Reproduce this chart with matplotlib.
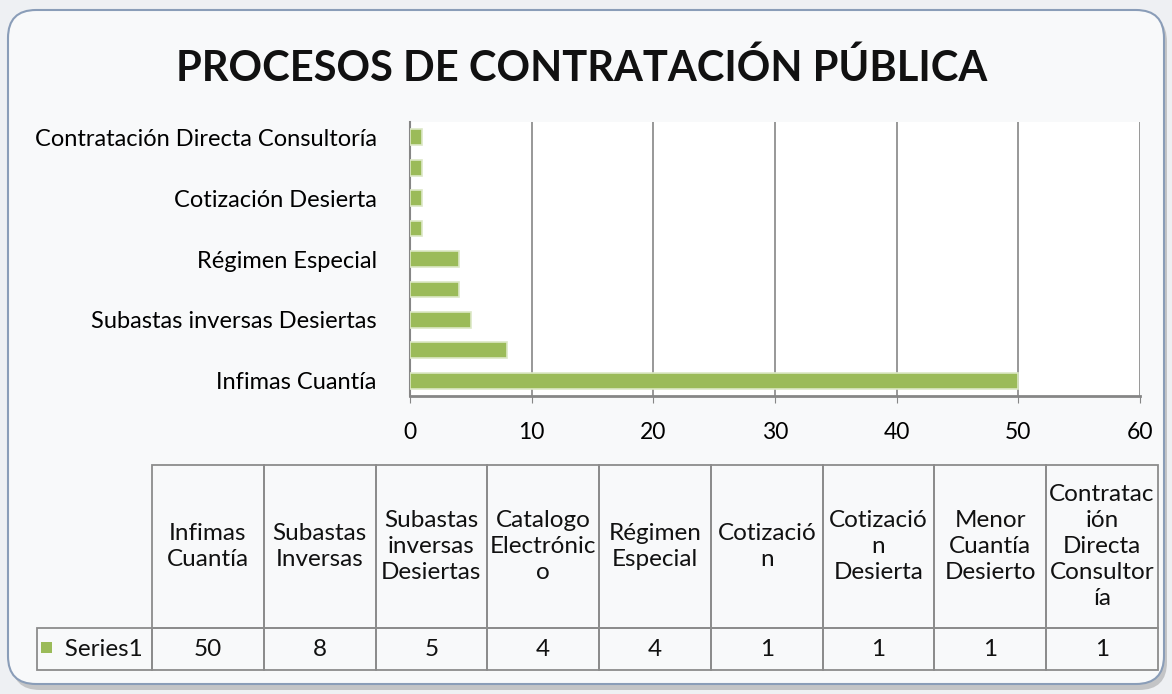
import matplotlib.pyplot as plt
from matplotlib.patches import FancyBboxPatch, Rectangle

# data
categories = ['Infimas Cuantía', 'Subastas Inversas', 'Subastas inversas Desiertas',
              'Catalogo Electrónico', 'Régimen Especial', 'Cotización',
              'Cotización Desierta', 'Menor Cuantía Desierto',
              'Contratación Directa Consultoría']
table_headers = ['Infimas\nCuantía', 'Subastas\nInversas', 'Subastas\ninversas\nDesiertas',
                 'Catalogo\nElectrónic\no', 'Régimen\nEspecial', 'Cotizació\nn',
                 'Cotizació\nn\nDesierta', 'Menor\nCuantía\nDesierto',
                 'Contratac\nión\nDirecta\nConsultor\nía']
values = [50, 8, 5, 4, 4, 1, 1, 1, 1]
series_name = 'Series1'
x_ticks = [0, 10, 20, 30, 40, 50, 60]

plt.rcParams['font.family'] = ['Lato', 'DejaVu Sans']

W, H = 1172, 694
fig = plt.figure(figsize=(W / 100, H / 100), dpi=100)
fig.patch.set_facecolor('#EEF0F3')

# background / frame in pixel coords
bg = fig.add_axes([0, 0, 1, 1], zorder=-1)
bg.set_xlim(0, W)
bg.set_ylim(H, 0)
bg.axis('off')
shadow = FancyBboxPatch((12, 14), 1155, 676, boxstyle='round,pad=0,rounding_size=28',
                        fc='#9A9A9A', ec='none', alpha=0.5)
bg.add_patch(shadow)
frame = FancyBboxPatch((8, 10), 1156, 674, boxstyle='round,pad=0,rounding_size=28',
                       fc='#F8F9FA', ec='#8A9DB8', lw=1.5)
bg.add_patch(frame)

fig.text(582 / W, 1 - 68 / H, 'PROCESOS DE CONTRATACIÓN PÚBLICA',
         ha='center', va='center', fontsize=30, fontweight='bold', color='#111111')

# bar chart
ax = fig.add_axes([410 / W, (H - 396) / H, 730 / W, 274 / H])
ax.set_facecolor('white')
ypos = list(range(len(categories)))
ax.barh(ypos, values, height=0.52, color='#9BBB59', edgecolor='#DCE8C6', linewidth=1.2, zorder=3)
ax.set_xlim(0, 60)
ax.set_ylim(-0.5, len(categories) - 0.5)
ax.set_xticks(x_ticks)
ax.set_xticklabels([str(t) for t in x_ticks], fontsize=16.5)
ax.set_yticks(ypos[::2])
ax.set_yticklabels(categories[::2], fontsize=17)
ax.tick_params(axis='y', length=0, pad=24)
ax.tick_params(axis='x', length=5, color='#868686', pad=14, direction='out')
ax.grid(axis='x', color='#868686', lw=1.2, zorder=0)
for s in ['top', 'right']:
    ax.spines[s].set_visible(False)
ax.spines['left'].set_color('#868686')
ax.spines['bottom'].set_color('#868686')
ax.spines['left'].set_linewidth(1.5)
ax.spines['bottom'].set_linewidth(2)

# data table
tax = fig.add_axes([37 / W, (H - 670) / H, (1158 - 37) / W, 205 / H])
tax.axis('off')
cell_text = [[''] + table_headers, [series_name] + [str(v) for v in values]]
tbl = tax.table(cellText=cell_text, bbox=[0, 0, 1, 1], cellLoc='center')
tbl.auto_set_font_size(False)
tbl.set_fontsize(17.5)
for (r, c), cell in tbl.get_celld().items():
    cell.set_height(163 if r == 0 else 42)
    cell.set_width(115 if c == 0 else 111.8)
    cell.set_edgecolor('#8C8C8C')
    cell.set_linewidth(1.3)
    cell.set_facecolor('none')
    cell.get_text().set_color('#111111')
    cell.get_text().set_linespacing(1.3)
tbl[0, 0].visible_edges = ''
tbl[1, 0].get_text().set_text('   ' + series_name)
bg.add_patch(Rectangle((41, 642), 11, 11, fc='#9BBB59', ec='none'))

fig.savefig('out.png', dpi=100, facecolor=fig.get_facecolor())
